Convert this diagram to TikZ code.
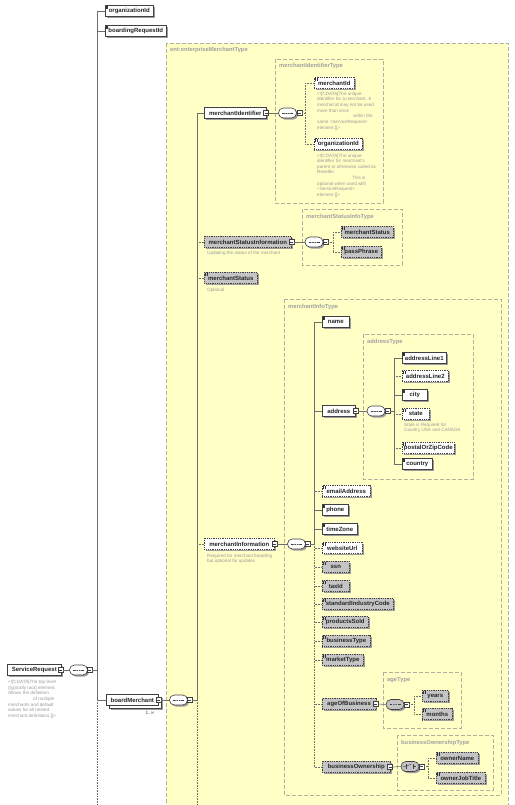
\documentclass[tikz,border=0pt]{standalone}
\usepackage{fontspec}
\setmainfont{Liberation Sans}
\usetikzlibrary{shadows}
\definecolor{yfill}{HTML}{FFFFC6}
\definecolor{tline}{HTML}{B0B0A0}
\definecolor{tlbl}{HTML}{A0A0A0}
\definecolor{dtxt}{HTML}{9A9A9A}
\definecolor{lnc}{HTML}{6E6E6E}
\definecolor{gfill}{HTML}{C4C4C4}
\tikzset{
  shad/.style={drop shadow={shadow xshift=1.6pt, shadow yshift=-1.6pt, fill=black!38, opacity=1}},
  elembase/.style={draw=black!75, line width=0.6pt, fill=white, minimum height=11.5pt, inner sep=0pt, anchor=west, text=black!85, font=\fontsize{6}{7}\selectfont\bfseries},
  elem/.style={elembase, shad},
  opt/.style={dash pattern=on 1pt off 0.8pt},
  greyel/.style={fill=gfill},
  leaf/.style={path picture={\draw[line width=0.35pt, black!80]
     ([shift={(0.7pt,-0.8pt)}]path picture bounding box.north west) -- ++(2.2pt,0pt)
     ([shift={(0.7pt,-1.7pt)}]path picture bounding box.north west) -- ++(2.2pt,0pt)
     ([shift={(0.7pt,-2.6pt)}]path picture bounding box.north west) -- ++(2.2pt,0pt);}},
  typebox/.style={draw=tline, dash pattern=on 4pt off 2pt, line width=0.6pt},
  typelbl/.style={anchor=west, text=tlbl, font=\fontsize{5.8}{6.5}\selectfont\bfseries, inner sep=0pt},
  desc/.style={anchor=north west, text=dtxt, font=\fontsize{4.6}{5.65}\selectfont, inner sep=0pt, align=left},
  bub/.style={rectangle, rounded corners=4.8pt, draw=black!75, fill=white, minimum width=18pt, minimum height=10pt, inner sep=0pt, line width=0.6pt, shad},
  seqsym/.style={path picture={
     \draw[line width=0.45pt] ([xshift=-5.5pt]path picture bounding box.center) -- ([xshift=5.5pt]path picture bounding box.center);
     \foreach \d in {-2.4,0,2.4} \fill ([xshift=\d pt]path picture bounding box.center) circle (0.75pt);}},
  chsym/.style={path picture={
     \draw[line width=0.45pt] ([xshift=-5.5pt]path picture bounding box.center) -- ([xshift=-2.5pt]path picture bounding box.center) -- ([shift={(0.3pt,1.8pt)}]path picture bounding box.center);
     \draw[line width=0.45pt] ([xshift=2.8pt]path picture bounding box.center) -- ([xshift=5.5pt]path picture bounding box.center);
     \draw[line width=0.45pt] ([shift={(-3.6pt,-2.6pt)}]path picture bounding box.center) -- ([shift={(-3.6pt,2.6pt)}]path picture bounding box.center);
     \draw[line width=0.45pt] ([shift={(3.6pt,-2.6pt)}]path picture bounding box.center) -- ([shift={(3.6pt,2.6pt)}]path picture bounding box.center);
     \foreach \d in {-1.8,0,1.8} \fill ([shift={(1.4pt,\d pt)}]path picture bounding box.center) circle (0.5pt);}},
  sq/.style={draw=black!75, fill=white, minimum size=5pt, inner sep=0pt, line width=0.5pt,
     path picture={\draw[line width=0.5pt] ([xshift=1pt]path picture bounding box.west) -- ([xshift=-1pt]path picture bounding box.east);}},
  conn/.style={draw=lnc, line width=0.6pt},
  dotc/.style={draw=lnc, line width=0.6pt, dash pattern=on 0.8pt off 0.8pt},
}
\begin{document}
\begin{tikzpicture}[x=1pt,y=-1pt]
\useasboundingbox (0,0) rectangle (514,805);
\clip (0,0) rectangle (514,805);
\fill[white] (0,0) rectangle (514,805);
% type boxes
\fill[yfill] (166,43) rectangle (508,812);
\draw[typebox] (166,43) rectangle (508,812);
\node[typelbl] (tEMT) at (170,50) {ent:enterpriseMerchantType};
\draw[typebox] (275,59) rectangle (383,203);
\node[typelbl] (tMIT) at (279,66.5) {merchantIdentifierType};
\draw[typebox] (302,209) rectangle (402,265);
\node[typelbl] (tMSIT) at (306,216.5) {merchantStatusInfoType};
\draw[typebox] (284,299) rectangle (501,795);
\node[typelbl] (tMInfT) at (288,306.5) {merchantInfoType};
\draw[typebox] (363,334) rectangle (473,479);
\node[typelbl] (tAddr) at (367,342) {addressType};
\draw[typebox] (383,672) rectangle (461,728);
\node[typelbl] (tAge) at (387,680) {ageType};
\draw[typebox] (397,735) rectangle (493,790);
\node[typelbl] (tBO) at (401,743) {businessOwnershipType};

\coordinate (bot) at (0,806);
\coordinate (sp1) at (97,0);
\coordinate (sp2) at (197,0);
\coordinate (sp3) at (305,0);
\coordinate (sp4) at (333,0);
\coordinate (sp5) at (314.5,0);
\coordinate (sp6) at (394,0);
\coordinate (sp7) at (414,0);
\coordinate (sp8) at (428,0);

% root
\node[elem, minimum width=54pt] (SR) at (7,670) {ServiceRequest};
\node[sq] (SRsq) at (60.5,670) {};
\node[bub, seqsym] (SRseq) at (78.5,670) {};
\node[sq] (SRseqsq) at (89.5,670) {};
\node[desc] (SRd) at (8,680) {<![CDATA[The top level\\(typically root) element.\\Allows the definition\\\hspace*{25pt}of multiple\\merchants and default\\values for all nested\\merchant definitions.]]>};

\node[elem, leaf, minimum width=48pt] (orgId) at (105,11) {organizationId};
\node[elem, leaf, minimum width=61pt] (brId) at (105,31) {boardingRequestId};

\node[elembase, minimum width=52pt,
  drop shadow={shadow xshift=4.2pt, shadow yshift=-4.2pt, fill=black!38, opacity=1},
  general shadow={shadow xshift=2.6pt, shadow yshift=-2.6pt, fill=white, draw=black!75}] (BM) at (106,700) {boardMerchant};
\node[sq] (BMsq) at (158.5,700) {};
\node[font=\fontsize{4.8}{5}\selectfont, text=black!70, inner sep=0pt] (BMocc) at (150,713) {1..∞};
\node[bub, seqsym] (BMseq) at (178.5,700) {};
\node[sq] (BMseqsq) at (189.5,700) {};

% merchantIdentifier
\node[elem, minimum width=62pt] (MI) at (204,113) {merchantIdentifier};
\node[sq] (MIsq) at (266,113) {};
\node[bub, seqsym] (MIseq) at (287.5,113) {};
\node[sq] (MIseqsq) at (299.5,113) {};
\node[elem, leaf, opt, minimum width=40pt] (mId) at (314,83) {merchantId};
\node[desc] (mIdd) at (317,91.8) {<![CDATA[The unique\\identifier for a merchant. A\\merchat id may not be used\\more than once\\\hspace*{36pt}within the\\same <ServiceRequest>\\element.]]>};
\node[elem, leaf, opt, minimum width=48pt] (mOrg) at (314,144) {organizationId};
\node[desc] (mOrgd) at (317,153.5) {<![CDATA[The unique\\identifier for merchant's\\parent or otherwise called as\\Reseller.\\\hspace*{35pt}This is\\optional when used with\\<ServiceRequest>\\element.]]>};

% merchantStatusInformation
\node[elem, opt, greyel, minimum width=87pt] (MSI) at (204,242) {merchantStatusInformation};
\node[sq] (MSIsq) at (291.5,242) {};
\node[desc] (MSId) at (207,250.8) {Updating the status of the merchant};
\node[bub, seqsym] (MSIseq) at (314,242) {};
\node[sq] (MSIseqsq) at (325.5,242) {};
\node[elem, leaf, opt, greyel, minimum width=52pt] (msStatus) at (341,232) {merchantStatus};
\node[elem, leaf, opt, greyel, minimum width=40pt] (passPh) at (341,252) {passPhrase};

\node[elem, leaf, opt, greyel, minimum width=53pt] (mStatus) at (204,278) {merchantStatus};
\node[desc] (mStatusd) at (207,287.8) {Optional};

% merchantInformation
\node[elem, opt, minimum width=70pt] (MInf) at (204,544) {merchantInformation};
\node[sq] (MInfsq) at (274.5,544) {};
\node[desc] (MInfd) at (207,553.8) {Required for merchant boarding\\but optional for updates};
\node[bub, seqsym] (MInfseq) at (296.5,544) {};
\node[sq] (MInfseqsq) at (307.5,544) {};

\node[elem, leaf, minimum width=27pt] (name) at (322,322) {name};
\node[elem, minimum width=33pt] (address) at (322,411) {address};
\node[sq] (addrsq) at (355.5,411) {};
\node[bub, seqsym] (addrseq) at (376,411) {};
\node[sq] (addrseqsq) at (387.5,411) {};
\node[elem, leaf, minimum width=44pt] (al1) at (402,358) {addressLine1};
\node[elem, leaf, opt, minimum width=46pt] (al2) at (402,376) {addressLine2};
\node[elem, leaf, minimum width=25pt] (city) at (402,395) {city};
\node[elem, leaf, opt, minimum width=27pt] (state) at (402,414) {state};
\node[desc] (stated) at (404,422.8) {State is Required for\\Country USA and CANADA};
\node[elem, leaf, opt, minimum width=52pt] (postal) at (402,448) {postalOrZipCode};
\node[elem, leaf, minimum width=30pt] (country) at (402,464) {country};

\node[elem, leaf, opt, minimum width=48pt] (email) at (322,491) {emailAddress};
\node[elem, leaf, minimum width=26pt] (phone) at (322,510) {phone};
\node[elem, leaf, minimum width=35pt] (timeZone) at (322,529) {timeZone};
\node[elem, leaf, opt, minimum width=40pt] (website) at (322,548) {websiteUrl};
\node[elem, leaf, opt, greyel, minimum width=27pt] (ssn) at (322,567) {ssn};
\node[elem, leaf, opt, greyel, minimum width=27pt] (taxId) at (322,586) {taxId};
\node[elem, leaf, opt, greyel, minimum width=71pt] (sic) at (322,604) {standardIndustryCode};
\node[elem, leaf, opt, greyel, minimum width=46pt] (prod) at (322,622) {productsSold};
\node[elem, leaf, opt, greyel, minimum width=48pt] (bType) at (322,641) {businessType};
\node[elem, leaf, opt, greyel, minimum width=41pt] (mType) at (322,660) {marketType};

\node[elem, opt, greyel, minimum width=53.5pt] (age) at (322,704) {ageOfBusiness};
\node[sq] (agesq) at (375.5,704) {};
\node[bub, seqsym, fill=gfill] (ageseq) at (395,704.5) {};
\node[sq] (ageseqsq) at (406.5,704.5) {};
\node[elem, leaf, opt, greyel, minimum width=26pt] (years) at (422,696) {years};
\node[elem, leaf, opt, greyel, minimum width=30pt] (months) at (422,714) {months};

\node[elem, opt, greyel, minimum width=68pt] (BOwn) at (322,767) {businessOwnership};
\node[sq] (BOsq) at (390,767) {};
\node[bub, chsym, fill=gfill] (BOch) at (410,766.5) {};
\node[sq] (BOchsq) at (421.5,766.5) {};
\node[elem, leaf, opt, greyel, minimum width=42pt] (ownName) at (436,758) {ownerName};
\node[elem, leaf, opt, greyel, minimum width=49pt] (ownJob) at (436,778) {ownerJobTitle};

% connectors: root
\draw[conn] (SRsq.east) -- (SRseq.west);
\draw[conn] (SRseqsq.east) -- (SRseqsq.east -| sp1);
\draw[conn] (orgId.west -| sp1) -- (BM.west -| sp1);
\draw[dotc] (BM.west -| sp1) -- (bot -| sp1);
\draw[conn] (orgId.west -| sp1) -- (orgId.west);
\draw[conn] (brId.west -| sp1) -- (brId.west);
\draw[conn] (BM.west -| sp1) -- (BM.west);
% boardMerchant
\draw[conn] (BMsq.east) -- (BMseq.west);
\draw[conn] (BMseqsq.east) -- (BMseqsq.east -| sp2);
\draw[conn] (MI.west -| sp2) -- (BMseqsq.east -| sp2);
\draw[dotc] (BMseqsq.east -| sp2) -- (bot -| sp2);
\draw[conn] (MI.west -| sp2) -- (MI.west);
\draw[dotc] (MSI.west -| sp2) -- (MSI.west);
\draw[dotc] (mStatus.west -| sp2) -- (mStatus.west);
\draw[dotc] (MInf.west -| sp2) -- (MInf.west);
% merchantIdentifier
\draw[conn] (MIsq.east) -- (MIseq.west);
\draw[dotc] (MIseqsq.east) -- (MIseqsq.east -| sp3);
\draw[dotc] (mId.west -| sp3) -- (mOrg.west -| sp3);
\draw[dotc] (mId.west -| sp3) -- (mId.west);
\draw[dotc] (mOrg.west -| sp3) -- (mOrg.west);
% merchantStatusInformation
\draw[conn] (MSIsq.east) -- (MSIseq.west);
\draw[dotc] (MSIseqsq.east) -- (MSIseqsq.east -| sp4);
\draw[dotc] (msStatus.west -| sp4) -- (passPh.west -| sp4);
\draw[dotc] (msStatus.west -| sp4) -- (msStatus.west);
\draw[dotc] (passPh.west -| sp4) -- (passPh.west);
% merchantInformation
\draw[conn] (MInfsq.east) -- (MInfseq.west);
\draw[conn] (MInfseqsq.east) -- (MInfseqsq.east -| sp5);
\draw[conn] (name.west -| sp5) -- (MInfseqsq.east -| sp5);
\draw[dotc] (MInfseqsq.east -| sp5) -- (BOwn.west -| sp5);
\foreach \n in {name,address,phone,timeZone} \draw[conn] (\n.west -| sp5) -- (\n.west);
\foreach \n in {email,website,ssn,taxId,sic,prod,bType,mType,age,BOwn} \draw[dotc] (\n.west -| sp5) -- (\n.west);
% address
\draw[conn] (addrsq.east) -- (addrseq.west);
\draw[conn] (addrseqsq.east) -- (addrseqsq.east -| sp6);
\draw[conn] (al1.west -| sp6) -- (country.west -| sp6);
\foreach \n in {al1,city,country} \draw[conn] (\n.west -| sp6) -- (\n.west);
\foreach \n in {al2,state,postal} \draw[dotc] (\n.west -| sp6) -- (\n.west);
% ageOfBusiness
\draw[conn] (agesq.east) -- (ageseq.west);
\draw[dotc] (ageseqsq.east) -- (ageseqsq.east -| sp7);
\draw[dotc] (years.west -| sp7) -- (months.west -| sp7);
\draw[dotc] (years.west -| sp7) -- (years.west);
\draw[dotc] (months.west -| sp7) -- (months.west);
% businessOwnership
\draw[conn] (BOsq.east) -- (BOch.west);
\draw[dotc] (BOchsq.east) -- (BOchsq.east -| sp8);
\draw[dotc] (ownName.west -| sp8) -- (ownJob.west -| sp8);
\draw[dotc] (ownName.west -| sp8) -- (ownName.west);
\draw[dotc] (ownJob.west -| sp8) -- (ownJob.west);
\end{tikzpicture}
\end{document}
